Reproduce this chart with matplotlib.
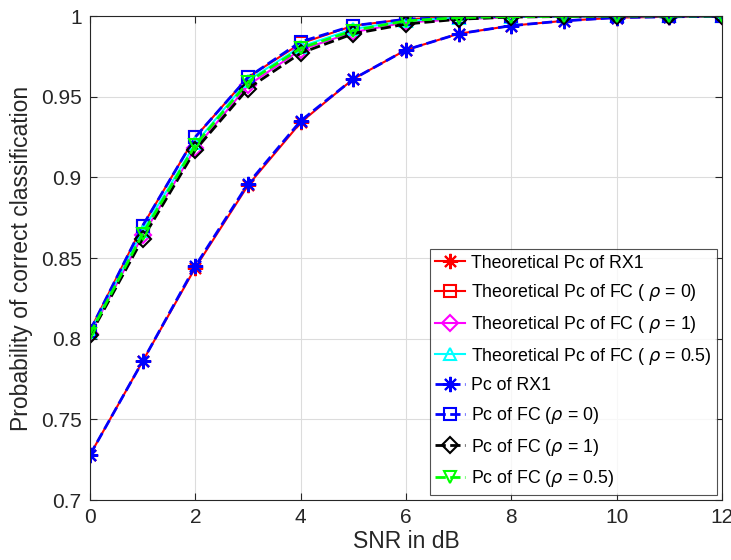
import matplotlib.pyplot as plt
from matplotlib.ticker import FuncFormatter

plt.rcParams['font.family'] = ['Liberation Sans', 'DejaVu Sans']
plt.rcParams['mathtext.fontset'] = 'dejavusans'

snr = list(range(13))

# theoretical curves
th_rx1 = [0.728, 0.786, 0.844, 0.895, 0.934, 0.961, 0.979, 0.989, 0.994, 0.997, 0.999, 0.9995, 0.9998]
th_fc0 = [0.805, 0.870, 0.925, 0.962, 0.983, 0.994, 0.998, 0.9993, 0.9998, 0.9999, 1.0, 1.0, 1.0]
th_fc1 = [0.803, 0.864, 0.918, 0.957, 0.979, 0.990, 0.996, 0.998, 0.9993, 0.9997, 0.9999, 1.0, 1.0]
th_fc05 = [0.804, 0.867, 0.921, 0.960, 0.981, 0.992, 0.997, 0.999, 0.9996, 0.9998, 1.0, 1.0, 1.0]

# simulated curves
sim_rx1 = [0.728, 0.786, 0.845, 0.896, 0.935, 0.961, 0.979, 0.989, 0.994, 0.997, 0.999, 0.9995, 0.9998]
sim_fc0 = [0.805, 0.870, 0.925, 0.962, 0.984, 0.994, 0.998, 0.9993, 0.9998, 0.9999, 1.0, 1.0, 1.0]
sim_fc1 = [0.802, 0.862, 0.917, 0.955, 0.977, 0.989, 0.995, 0.998, 0.9993, 0.9997, 0.9999, 1.0, 1.0]
sim_fc05 = [0.803, 0.865, 0.920, 0.959, 0.980, 0.991, 0.997, 0.999, 0.9996, 0.9998, 1.0, 1.0, 1.0]

fig = plt.figure(figsize=(7.31, 5.6), dpi=100)
ax = fig.add_axes([90 / 731, 60 / 560, 632 / 731, 484 / 560])

ast = (8, 2, 0)  # MATLAB-like asterisk
lw = 1.5
ms = 9
ax.plot(snr, th_rx1, '-', marker=ast, color='red', lw=lw, ms=ms + 2, mew=1.5, label='Theoretical Pc of RX1')
ax.plot(snr, th_fc0, '-s', color='red', lw=lw, ms=ms, mew=1.5, mfc='none', label=r'Theoretical Pc of FC ( $\rho$ = 0)')
ax.plot(snr, th_fc1, '-D', color='magenta', lw=lw, ms=ms - 1, mew=1.5, mfc='none', label=r'Theoretical Pc of FC ( $\rho$ = 1)')
ax.plot(snr, th_fc05, '-^', color='cyan', lw=lw, ms=ms, mew=1.5, mfc='none', label=r'Theoretical Pc of FC ( $\rho$ = 0.5)')
ax.plot(snr, sim_rx1, '--', marker=ast, color='blue', lw=2, ms=ms + 2, mew=1.5, label='Pc of RX1')
ax.plot(snr, sim_fc0, '--s', color='blue', lw=2, ms=ms, mew=1.5, mfc='none', label=r'Pc of FC ($\rho$ = 0)')
ax.plot(snr, sim_fc1, '--D', color='black', lw=2, ms=ms - 1, mew=1.5, mfc='none', label=r'Pc of FC ($\rho$ = 1)')
ax.plot(snr, sim_fc05, '--v', color='lime', lw=2, ms=ms, mew=1.5, mfc='none', label=r'Pc of FC ($\rho$ = 0.5)')

ax.set_xlim(0, 12)
ax.set_ylim(0.7, 1.0)
ax.set_xticks(range(0, 13, 2))
ax.set_yticks([0.7, 0.75, 0.8, 0.85, 0.9, 0.95, 1.0])
ax.yaxis.set_major_formatter(FuncFormatter(lambda v, p: ('%g' % round(v, 2))))
ax.grid(True, color='#dcdcdc', lw=0.8)
ax.set_axisbelow(True)
ax.tick_params(direction='in', labelsize=15, colors='#262626', top=True, right=True, length=5, pad=6)
for s in ax.spines.values():
    s.set_color('#262626')
    s.set_linewidth(0.8)

ax.set_xlabel('SNR in dB', fontsize=16.5, color='#262626', labelpad=2)
ax.set_ylabel('Probability of correct classification', fontsize=16.5, color='#262626', labelpad=6)

leg = ax.legend(loc='lower right', fontsize=12.8, fancybox=False, edgecolor='#262626',
                handlelength=1.7, handletextpad=0.3, borderaxespad=0.3, labelspacing=0.6,
                borderpad=0.3)
leg.get_frame().set_linewidth(0.8)

fig.savefig('out.png', dpi=100)
